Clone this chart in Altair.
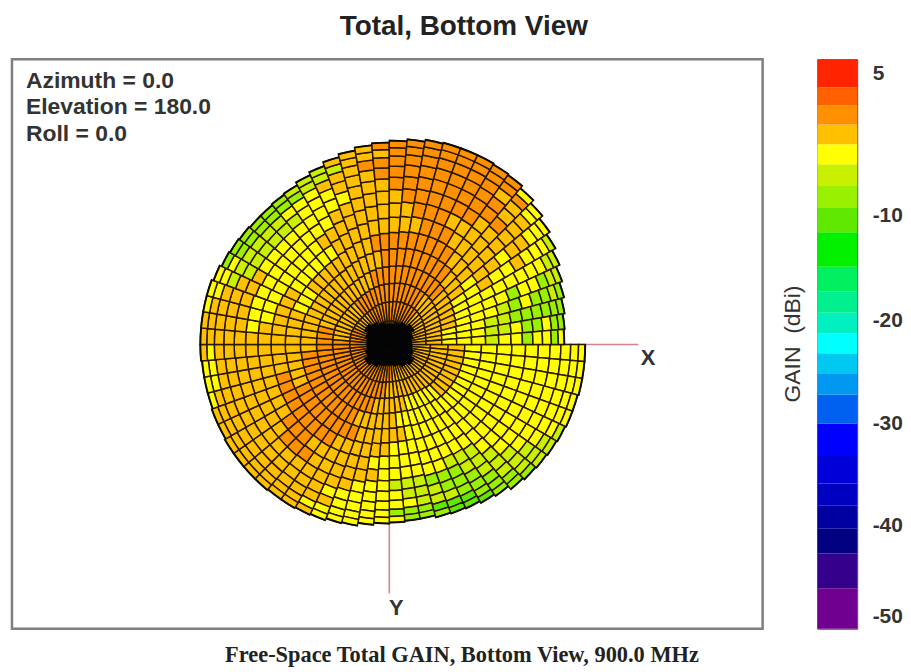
import math
import altair as alt
import pandas as pd

TITLE = "Total, Bottom View"
CAPTION = "Free-Space Total GAIN, Bottom View, 900.0 MHz"
VIEW_LINES = ["Azimuth = 0.0", "Elevation = 180.0", "Roll = 0.0"]

# Outer radius of the pattern, every 5 degrees clockwise from +X on screen
OUTER = [197,197,197,196,196,195,194,193,192,190,186,184,182,181,180,178,178,179,
         180,182,185,186,188,189,190,190,191,191,191,191,190,190,189,189,189,190,
         190,190,190,190,188,186,185,184,183,183,184,185,188,191,195,198,201,203,
         205,207,209,210,210,210,209,208,205,201,197,193,189,185,182,179,177,176]

# Ring positions as a share of the outer radius, and the gain column each one reads
RINGS = [0.115,0.21,0.30,0.385,0.47,0.55,0.625,0.695,0.76,0.82,0.875,0.925,0.965,1.0]
RING_COLUMN = [0,1,2,3,4,5,6,7,8,9,10,10,11,11]

# Gain per 15 degree block (rows) and column, inner to outer
GAIN = [
 [-2,-1,-1,-2,-3,-3,-3.5,-3.5,-3.5,-3.5,-3.5,-3],
 [-2,-1,-1,-2,-3,-3.5,-3.5,-3.5,-4,-4,-3.5,-3.5],
 [-2,-1,-1.5,-2.5,-3.5,-3.5,-4,-4,-4,-4,-4.5,-5],
 [-2,-1,-2,-3,-3.5,-4,-4,-4,-4.5,-5,-6,-8],
 [-2,-1,-2,-3,-3.5,-4,-4,-4,-5,-7,-9,-11],
 [-2,-.5,-1.5,-2.5,-3,-3.5,-3.5,-4,-4,-5,-6,-8],
 [-2,0,-.5,-1,-1.5,-2,-2.5,-3,-3,-3,-3.5,-3.5],
 [-2,.5,.5,0,-.5,-1,-1,-1.5,-2,-2.5,-3,-3],
 [-2,.5,.8,.8,.5,.5,0,-.5,-.5,-1,-1.5,-2.5],
 [-2,.5,1,1,.8,.5,.5,0,0,-.5,-1,-1.5],
 [-2,.5,.8,.8,.5,0,0,-.5,-.5,-1,-1.5,-2.5],
 [-2,.5,.5,.5,0,-.5,-1,-1,-1,-1.5,-2,-3],
 [-2,.5,.3,0,-.5,-1,-1.5,-1.5,-1.5,-1.5,-2,-2.5],
 [-2,0,-.5,-1,-1.5,-2,-2.5,-3,-3,-2.5,-2.5,-3.5],
 [-2,-.5,-1,-2,-2.5,-3,-3.5,-3.5,-3.5,-4,-5,-7],
 [-2,-.5,-1,-1.5,-2,-2.5,-3,-3.5,-4,-4,-5,-7],
 [-2,0,0,-.5,-1,-1.5,-2,-2.5,-3,-3,-3.5,-5],
 [-2,.5,.5,0,-.5,-1,-1.5,-1.5,-1.5,-1.5,-1,-1.5],
 [-2,.5,.5,.5,.5,0,-.5,-.5,-.5,0,0,0],
 [-2,.5,.5,.5,.5,.5,.5,.5,.5,.5,.5,.5],
 [-2,0,0,0,0,0,-.5,-.5,0,.5,.5,0],
 [-2,-.5,-1,-1,-1,-1.5,-2,-2,-2,-1.5,-1.5,-3],
 [-2,-.5,-1.5,-2.5,-3,-3.5,-3.5,-3.5,-4,-4,-4.5,-6],
 [-2,-1,-2,-3,-4,-4,-5,-6,-7,-8,-9,-9],
]

# Solid centre of the pattern, radius per 15 degrees
HUB = [22,24,28,25,22,20,20,22,25,28,24,22,22,24,28,25,22,20,20,22,25,28,24,22]

# Colour bar bands, bottom to top
BAND_EDGES = [-51.3,-46.9,-43.1,-40.4,-38.1,-35.9,-33.2,-30,-27.2,-25.2,-23.2,-21.3,
              -19.3,-17.3,-14.9,-11.6,-9.2,-6.8,-4.6,-2.5,-0.4,1.6,3.5,6.5]
BAND_COLORS = ["#70008f","#34008c","#000080","#0000a0","#0000c0","#0000d8","#0000ff",
               "#0060f0","#0098f0","#00c8f0","#00ffff","#00f0c0","#00f090","#00f060",
               "#00f000","#60e800","#99f000","#c8f000","#ffff00","#ffc000","#ff9000",
               "#ff6000","#ff2400"]
TICKS = [5,-10,-20,-30,-40,-50]
TICK_POS = [-51.3,-50,-40,-30,-20,-10,5,6.5]

rows = []
for s, r_out in enumerate(OUTER):
    for k, f in enumerate(RINGS):
        inner = RINGS[k-1] if k else 0.115 * 0.8
        ang = s * 5
        rows.append({"t0": (ang + 90), "t1": (ang + 95),
                     "r0": inner * r_out, "r1": f * r_out,
                     "gain": GAIN[((s + k % 3) // 3) % 24][RING_COLUMN[k]]})
mesh = pd.DataFrame(rows)
hub = pd.DataFrame([{"t0": i*15+90, "t1": i*15+105, "r1": r} for i, r in enumerate(HUB)])
rim = pd.DataFrame([{"t0": s*5+90, "t1": s*5+95, "r0": r-1.2, "r1": r+0.6} for s, r in enumerate(OUTER)])

W, H = 754, 572
xs = alt.Scale(domain=[-379, 375], nice=False, zero=False)
ys = alt.Scale(domain=[-285.5, 286.5], nice=False, zero=False)
ths = alt.Scale(domain=[0, 360], range=[0, 2 * math.pi])
rs = alt.Scale(type="linear", domain=[0, 300], range=[0, 300])
col = alt.Scale(type="threshold", domain=BAND_EDGES[1:-1], range=BAND_COLORS)
X0 = alt.X(datum=0, scale=xs, axis=None)
Y0 = alt.Y(datum=0, scale=ys, axis=None)

axes = pd.DataFrame([{"x": 0, "x2": 250, "y": 0, "y2": 0}, {"x": 0, "x2": 0, "y": 0, "y2": -250}])
rules = alt.Chart(axes).mark_rule(color="#d9808f", strokeWidth=1.6).encode(
    x=alt.X("x:Q", scale=xs, axis=None), x2="x2:Q",
    y=alt.Y("y:Q", scale=ys, axis=None), y2="y2:Q")

cells = alt.Chart(mesh).mark_arc(stroke="#2a1800", strokeWidth=1.5).encode(
    x=X0, y=Y0,
    theta=alt.Theta("t0:Q", scale=ths), theta2="t1:Q",
    radius=alt.Radius("r1:Q", scale=rs), radius2="r0:Q",
    color=alt.Color("gain:Q", scale=col, legend=None))

edge = alt.Chart(rim).mark_arc(color="#0a0a00").encode(
    x=X0, y=Y0,
    theta=alt.Theta("t0:Q", scale=ths), theta2="t1:Q",
    radius=alt.Radius("r1:Q", scale=rs), radius2="r0:Q")

centre = alt.Chart(hub).mark_arc(color="#050505", stroke="#050505", strokeWidth=2).encode(
    x=X0, y=Y0,
    theta=alt.Theta("t0:Q", scale=ths), theta2="t1:Q",
    radius=alt.Radius("r1:Q", scale=rs))

axis_lab = pd.DataFrame({"x": [260, 7], "y": [-14, -265], "t": ["X", "Y"]})
labs = alt.Chart(axis_lab).mark_text(font="Liberation Sans", fontSize=22, fontWeight="bold", color="#333333").encode(
    x=alt.X("x:Q", scale=xs, axis=None), y=alt.Y("y:Q", scale=ys, axis=None), text="t:N")

info = pd.DataFrame({"i": [0, 1, 2], "t": VIEW_LINES, "yy": [22, 48, 75]})
infot = alt.Chart(info).mark_text(font="Liberation Sans", fontSize=23, fontWeight="bold", align="left", color="#333333").encode(
    x=alt.value(14), y=alt.Y("yy:Q", scale=None), text="t:N")

cap = alt.Chart(pd.DataFrame({"t": [CAPTION]})).mark_text(font="Liberation Serif", fontSize=22.5, fontWeight="bold", color="#222222").encode(
    x=alt.value(452), y=alt.value(598), text="t:N")

main = alt.layer(rules, cells, edge, centre, labs, infot, cap).properties(
    width=W, height=H, view=alt.ViewConfig(stroke="#7f7f7f", strokeWidth=2.5, fill="white"))

bands = pd.DataFrame({"lo": BAND_EDGES[:-1], "hi": BAND_EDGES[1:]})
bands["gain"] = (bands["lo"] + bands["hi"]) / 2
cy = alt.Scale(domain=TICK_POS, range=[572, 560, 468, 366, 262, 157, 14, 0])
bar = alt.Chart(bands).mark_rect().encode(
    x=alt.value(0), x2=alt.value(40),
    y=alt.Y("lo:Q", scale=cy, axis=alt.Axis(orient="right", values=TICKS, title=None, domain=False, ticks=False,
            labelExpr="toString(datum.value)",
            labelFont="Liberation Sans", labelFontSize=21, labelFontWeight="bold", labelColor="#333333", labelPadding=15, grid=False)),
    y2="hi:Q",
    color=alt.Color("gain:Q", scale=col, legend=None))
ttl = alt.Chart(pd.DataFrame({"t": ["GAIN\u00a0\u00a0(dBi)"]})).mark_text(font="Liberation Sans", fontSize=23, angle=270, color="#333333").encode(
    x=alt.value(-24), y=alt.value(286), text="t:N")
cbar = alt.layer(bar, ttl).properties(width=40, height=H, view=alt.ViewConfig(stroke="#444444", strokeWidth=1))

chart = alt.hconcat(main, cbar, spacing=17).properties(
    padding={"left": 2, "top": 3, "right": 0, "bottom": 0},
    title=alt.TitleParams(TITLE, font="Liberation Sans", fontSize=28, fontWeight="bold", color="#222222",
                          anchor="middle", dx=7, offset=17))
chart.save("out.html", embed_options={"renderer": "svg", "actions": False})
